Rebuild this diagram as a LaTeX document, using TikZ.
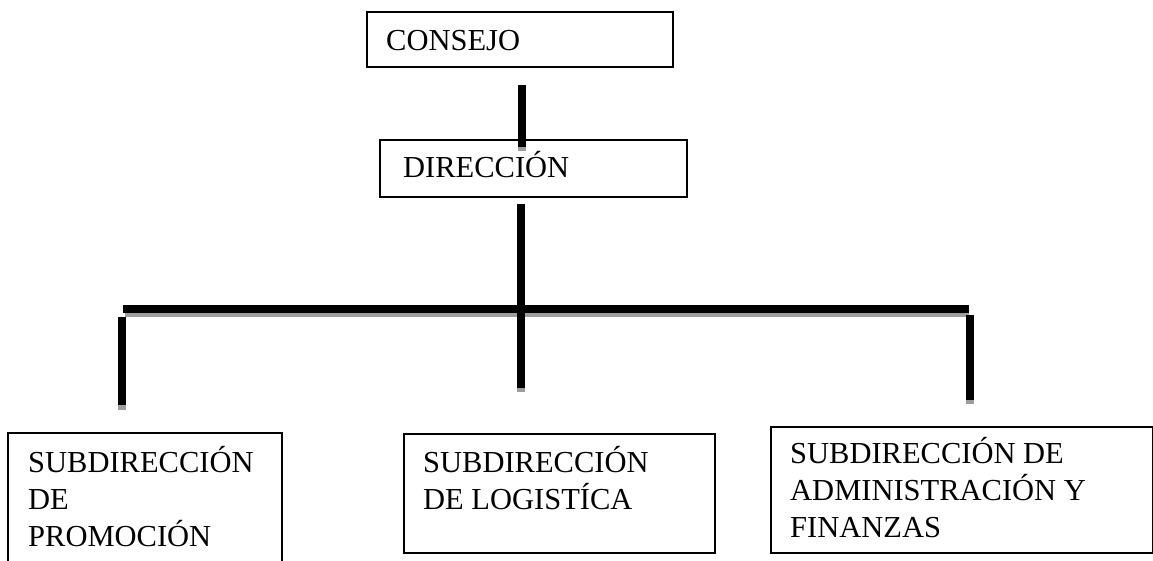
\documentclass[tikz,border=0pt]{standalone}
\usepackage{fontspec}
\setmainfont{Liberation Serif}
\begin{document}
\begin{tikzpicture}[x=1pt,y=-1pt,
  box/.style={draw=black, line width=1.6pt, rectangle, inner sep=0pt, anchor=north west},
  lbl/.style={inner sep=0pt, anchor=base west, align=left, font=\fontsize{30.5}{37}\selectfont},
  conn/.style={line width=8pt, black},
  shadow/.style={line width=8pt, black!38}]
\useasboundingbox (0,0) rectangle (1153,560);
\clip (0,0) rectangle (1153,560);
% boxes
\node[box, minimum width=306pt, minimum height=55pt] (consejo) at (366,11) {};
\node[box, minimum width=307pt, minimum height=57pt] (direccion) at (379,139) {};
\node[box, minimum width=274pt, minimum height=150pt] (promo) at (7,432) {};
\node[box, minimum width=311pt, minimum height=119pt] (logis) at (403,433) {};
\node[box, minimum width=382pt, minimum height=126pt] (admin) at (770,426) {};
% labels (anchor = baseline of last line)
\node[lbl] (tconsejo) at (386,50) {CONSEJO};
\node[lbl] (tdireccion) at (403,177) {DIRECCIÓN};
\node[lbl] (tpromo) at (28,546) {SUBDIRECCIÓN\\DE\\PROMOCIÓN};
\node[lbl] (tlogis) at (423,509) {SUBDIRECCIÓN\\DE LOGISTÍCA};
\node[lbl] (tadmin) at (790,537) {SUBDIRECCIÓN DE\\ADMINISTRACIÓN Y\\FINANZAS};
% connector end points
\coordinate (a1) at (522,85);
\coordinate (a2) at (522,147);
\coordinate (b1) at (521,204);
\coordinate (b2) at (521,388);
\coordinate (h1) at (123,309);
\coordinate (h2) at (969,309);
\coordinate (l1) at (122,317);
\coordinate (l2) at (122,405);
\coordinate (r1) at (970,315);
\coordinate (r2) at (970,400);
% shadows
\draw[shadow] (a1) -- ([yshift=-4pt]a2);
\draw[shadow] ([xshift=2pt,yshift=-4pt]h1) -- ([yshift=-4pt]h2);
\draw[shadow] (b1) -- ([yshift=-4pt]b2);
\draw[shadow] (l1) -- ([yshift=-5pt]l2);
\draw[shadow] (r1) -- ([yshift=-4pt]r2);
% connectors
\draw[conn] (a1) -- (a2);
\draw[conn] (h1) -- (h2);
\draw[conn] (b1) -- (b2);
\draw[conn] (l1) -- (l2);
\draw[conn] (r1) -- (r2);
\end{tikzpicture}
\end{document}
